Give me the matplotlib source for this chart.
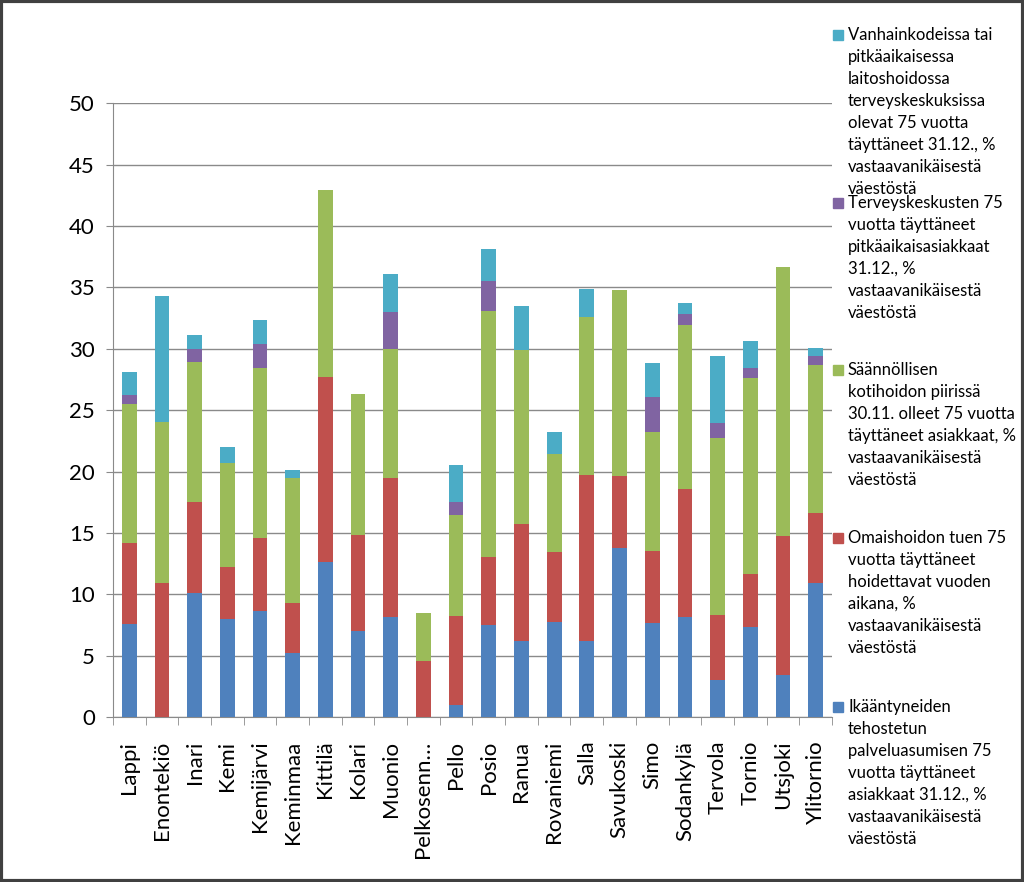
"""Stacked bar chart: 75+ year olds in elderly care services by Lapland municipality."""

import matplotlib
matplotlib.use("Agg")
import matplotlib.pyplot as plt
import numpy as np
from matplotlib.patches import Rectangle

municipalities = [
    "Lappi", "Enontekiö", "Inari", "Kemi", "Kemijärvi", "Keminmaa", "Kittilä",
    "Kolari", "Muonio", "Pelkosenn…", "Pello", "Posio", "Ranua", "Rovaniemi",
    "Salla", "Savukoski", "Simo", "Sodankylä", "Tervola", "Tornio", "Utsjoki",
    "Ylitornio",
]

# series values, bottom to top
tehostettu = [7.6, 0.0, 10.1, 8.0, 8.6, 5.2, 12.6, 7.0, 8.15, 0.0, 1.0, 7.5,
              6.2, 7.75, 6.2, 13.8, 7.65, 8.15, 3.0, 7.3, 3.45, 10.95]
omaishoito = [6.6, 10.9, 7.4, 4.2, 6.0, 4.1, 15.1, 7.85, 11.35, 4.6, 7.2, 5.55,
              9.5, 5.7, 13.5, 5.85, 5.85, 10.45, 5.35, 4.35, 11.3, 5.7]
kotihoito = [11.3, 13.1, 11.4, 8.5, 13.8, 10.15, 15.2, 11.5, 10.5, 3.9, 8.25, 20.0,
             14.2, 8.0, 12.9, 15.1, 9.75, 13.35, 14.35, 15.95, 21.9, 12.05]
tk_pitkaaik = [0.7, 0.0, 1.1, 0.0, 2.0, 0.0, 0.0, 0.0, 3.0, 0.0, 1.1, 2.5,
               0.0, 0.0, 0.0, 0.0, 2.8, 0.9, 1.25, 0.85, 0.0, 0.7]
vanhainkoti = [1.9, 10.3, 1.1, 1.3, 1.95, 0.7, 0.0, 0.0, 3.1, 0.0, 3.0, 2.6,
               3.6, 1.75, 2.3, 0.0, 2.8, 0.9, 5.45, 2.2, 0.0, 0.7]

series_labels = [
    "Ikääntyneiden\ntehostetun\npalveluasumisen 75\nvuotta täyttäneet\n"
    "asiakkaat 31.12., %\nvastaavanikäisestä\nväestöstä",
    "Omaishoidon tuen 75\nvuotta täyttäneet\nhoidettavat vuoden\naikana, %\n"
    "vastaavanikäisestä\nväestöstä",
    "Säännöllisen\nkotihoidon piirissä\n30.11. olleet 75 vuotta\n"
    "täyttäneet asiakkaat, %\nvastaavanikäisestä\nväestöstä",
    "Terveyskeskusten 75\nvuotta täyttäneet\npitkäaikaisasiakkaat\n31.12., %\n"
    "vastaavanikäisestä\nväestöstä",
    "Vanhainkodeissa tai\npitkäaikaisessa\nlaitoshoidossa\nterveyskeskuksissa\n"
    "olevat 75 vuotta\ntäyttäneet 31.12., %\nvastaavanikäisestä\nväestöstä",
]
colors = ["#4F81BD", "#C0504D", "#9BBB59", "#8064A2", "#4BACC6"]

plt.rcParams["font.family"] = ["Lato", "DejaVu Sans"]

fig = plt.figure(figsize=(10.24, 8.82), dpi=100)
ax = fig.add_axes([0.1104, 0.187, 0.702, 0.696])

x = np.arange(len(municipalities))
bottom = np.zeros(len(municipalities))
for vals, col in zip([tehostettu, omaishoito, kotihoito, tk_pitkaaik, vanhainkoti], colors):
    vals = np.asarray(vals)
    ax.bar(x, vals, width=0.45, bottom=bottom, color=col, zorder=3)
    bottom += vals

ax.set_xlim(-0.5, len(municipalities) - 0.5)
ax.set_ylim(0, 50)
ax.set_yticks(np.arange(0, 51, 5))
ax.yaxis.grid(True, color="#8a8a8a", lw=1, zorder=0)
ax.set_xticks(x)
ax.set_xticklabels(municipalities, rotation=90, fontsize=16, va="top", ha="center")
ax.set_xticks(np.arange(-0.5, len(municipalities), 1), minor=True)
ax.tick_params(axis="x", which="major", length=0, pad=17)
ax.tick_params(axis="x", which="minor", length=6, color="#8a8a8a", direction="out")
ax.tick_params(axis="y", length=5, color="#8a8a8a", labelsize=16, pad=8)
for side in ["top", "right"]:
    ax.spines[side].set_visible(False)
for side in ["left", "bottom"]:
    ax.spines[side].set_color("#8a8a8a")

# legend, drawn by hand to match the tall wrapped entries
legend_tops = [707, 538, 370, 203, 35]
for lab, col, ytop in zip(series_labels, colors, legend_tops):
    yc = 1 - ytop / 882
    fig.patches.append(Rectangle((833 / 1024, yc - 5 / 882), 10 / 1024, 10 / 882,
                                 transform=fig.transFigure, color=col))
    fig.text(848 / 1024, yc + 8 / 882, lab, fontsize=12, va="top", ha="left",
             linespacing=1.46)

fig.patches.append(Rectangle((0.001, 0.001), 0.998, 0.998, transform=fig.transFigure,
                             fill=False, ec="#404040", lw=3))

fig.savefig("out.png", dpi=100)
